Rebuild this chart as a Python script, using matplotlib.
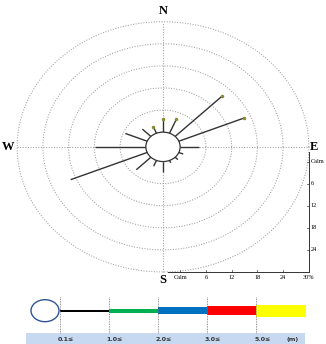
import numpy as np
import matplotlib.pyplot as plt
from matplotlib.patches import Ellipse, Rectangle

# wave rose data (frequency in %)
directions = ["N", "NNE", "NE", "ENE", "E", "ESE", "SE", "SSE",
              "S", "SSW", "SW", "WSW", "W", "WNW", "NW", "NNW"]
freq = [3.5, 4.1, 15.6, 16.5, 4.4, 1.1, 0.9, 0.7,
        2.8, 1.7, 4.8, 19.3, 11.9, 5.5, 2.8, 1.8]
has_tip = [True, True, True, True, False, False, False, False,
           False, False, False, False, False, False, False, True]

ring_ticks = [6, 12, 18, 24, 30]
ring_labels = ["Calm", "6", "12", "18", "24", "30%"]

# legend (wave height classes)
bin_labels = ["0.1≤", "1.0≤", "2.0≤", "3.0≤", "5.0≤"]
bin_colors = ["#000000", "#00b050", "#0070c0", "#ff0000", "#ffff00"]
bin_heights = [2, 4, 7, 9.5, 12]  # px

calm = 4.0  # radius of calm circle in % units
rmax = calm + ring_ticks[-1]

fig = plt.figure(figsize=(3.26, 3.44), dpi=100)

# ---- rose ----
ax = fig.add_axes([0, 54 / 344, 1, 290 / 344])
ax.set_xlim(-38, 38)
ax.set_ylim(-38.9, 39.9)
ax.axis("off")

t = np.linspace(0, 2 * np.pi, 400)
for rt in ring_ticks:
    r = calm + rt
    ax.plot(r * np.cos(t), r * np.sin(t), ls=(0, (1, 1.5)), color="#a0a0a0", lw=0.75)
ax.plot([-rmax, rmax], [0, 0], ls=(0, (1, 1.5)), color="#a0a0a0", lw=0.75)
ax.plot([0, 0], [-rmax, rmax], ls=(0, (1, 1.5)), color="#a0a0a0", lw=0.75)

theta = np.deg2rad(np.arange(len(directions)) * 22.5)
for th, f, tip in zip(theta, freq, has_tip):
    r1 = calm + f
    ax.plot([calm * np.sin(th), r1 * np.sin(th)], [calm * np.cos(th), r1 * np.cos(th)],
            color="#333333", lw=1.0, solid_capstyle="butt")
    if tip:
        ax.plot(r1 * np.sin(th), r1 * np.cos(th), "o", ms=1.5, color="#8a8a30")

ax.add_patch(Ellipse((0, 0), 2 * calm, 2 * calm, facecolor="white",
                     edgecolor="#333333", lw=0.9, zorder=3))

font_dir = dict(family="Liberation Serif", fontweight="bold", fontsize=9)
ax.text(0, rmax + 1.2, "N", ha="center", va="bottom", **font_dir)
ax.text(0, -rmax - 0.5, "S", ha="center", va="top", **font_dir)
ax.text(-rmax - 0.6, 0, "W", ha="right", va="center", **font_dir)
ax.text(rmax + 0.2, 0, "E", ha="left", va="center", **font_dir)

# scale axes (right and bottom)
ax.plot([rmax, rmax], [-1.4, -rmax], color="#333333", lw=0.7)
ax.plot([1.2, rmax], [-rmax, -rmax], color="#333333", lw=0.7)
tick_font = dict(family="Liberation Serif", fontsize=4.5)
for i, lab in enumerate(ring_labels):
    v = calm + ([0] + ring_ticks)[i]
    if i < len(ring_labels) - 1:
        ax.plot([rmax - 0.5, rmax], [-v, -v], color="#333333", lw=0.5)
        ax.text(rmax + 0.4, -v, lab, ha="left", va="center", **tick_font)
    ax.plot([v, v], [-rmax, -rmax + 0.5], color="#333333", lw=0.5)
    ax.text(v, -rmax - 0.9, lab, ha="center", va="top", **tick_font)

# ---- legend ----
lg = fig.add_axes([0, 0, 1, 54 / 344])
lg.set_xlim(0, 326)
lg.set_ylim(344, 290)
lg.axis("off")

x0, step, yc = 59.5, 49.2, 310.7
edges = [x0 + i * step for i in range(len(bin_labels) + 1)]
lg.add_patch(Rectangle((26, 333), 279, 11, facecolor="#c6d9f1", edgecolor="none"))
lg.add_patch(Ellipse((45, yc), 28, 22, facecolor="white", edgecolor="#2f5597", lw=1.0))
for i, (c, h) in enumerate(zip(bin_colors, bin_heights)):
    lg.barh(yc, step, left=edges[i], height=h, color=c, zorder=2)
for i, lab in enumerate(bin_labels):
    lg.plot([edges[i], edges[i]], [297, 333], ls=(0, (1, 1)), color="#777777", lw=0.6, zorder=3)
    lg.text(edges[i] + 6, 339.5, lab, ha="center", va="center", fontsize=4.5,
            fontweight="bold", color="#333333")
lg.text(293, 339.5, "(m)", ha="center", va="center", fontsize=4.5,
        fontweight="bold", color="#333333")

fig.savefig("out.png", dpi=100)
